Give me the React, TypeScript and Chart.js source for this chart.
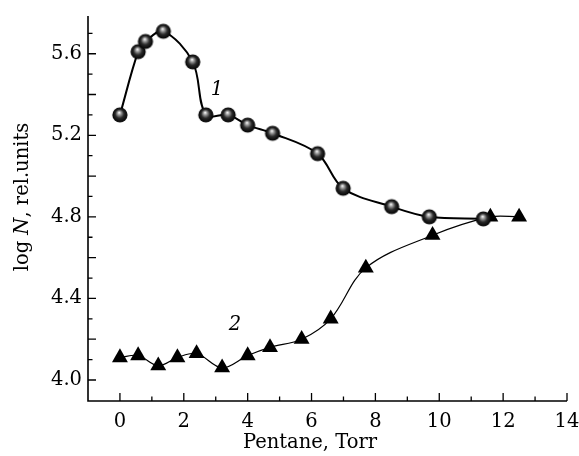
import React, { useEffect, useRef } from 'react';
import { Chart, registerables } from 'chart.js';

Chart.register(...registerables);

// Curve 1 (spheres)
const pressure1 = [0, 0.57, 0.8, 1.36, 2.28, 2.69, 3.39, 4.0, 4.78, 6.19, 6.99, 8.51, 9.69, 11.38];
const logN1 = [5.3, 5.61, 5.66, 5.71, 5.56, 5.3, 5.3, 5.25, 5.21, 5.11, 4.94, 4.85, 4.8, 4.79];
// Curve 2 (triangles)
const pressure2 = [0, 0.57, 1.2, 1.8, 2.4, 3.2, 4.0, 4.7, 5.69, 6.6, 7.7, 9.79, 11.6, 12.5];
const logN2 = [4.11, 4.12, 4.07, 4.11, 4.13, 4.06, 4.12, 4.16, 4.2, 4.3, 4.55, 4.71, 4.8, 4.8];

const xTickLabels = [0, 2, 4, 6, 8, 10, 12, 14];
const yTickLabels = [4.0, 4.4, 4.8, 5.2, 5.6];
const curveLabels = ['1', '2'];
const curveLabelX = [3.04, 3.6];
const curveLabelY = [5.42, 4.27];
const xTitle = 'Pentane, Torr';
const yTitleParts = ['log ', 'N', ', rel.units'];

const FAMILY = '"DejaVu Serif", serif';
const FSIZE = 19.5;

function makeSphere(r: number) {
  const size = Math.ceil(2 * r + 2);
  const c = document.createElement('canvas');
  c.width = size;
  c.height = size;
  const ctx = c.getContext('2d')!;
  const cx = size / 2;
  const cy = size / 2;
  const g = ctx.createRadialGradient(cx - 0.8, cy - 2.4, 0.3, cx, cy, r);
  g.addColorStop(0, '#f4f4f4');
  g.addColorStop(0.22, '#9a9a9a');
  g.addColorStop(0.55, '#2a2a2a');
  g.addColorStop(1, '#000000');
  ctx.fillStyle = g;
  ctx.beginPath();
  ctx.arc(cx, cy, r, 0, Math.PI * 2);
  ctx.fill();
  return c;
}

const axesPlugin = {
  id: 'axesPlugin',
  beforeDatasetsDraw(chart: any) {
    const { ctx, chartArea, scales } = chart;
    const { left, right, top, bottom } = chartArea;
    const x = scales.x;
    const y = scales.y;
    ctx.save();
    ctx.strokeStyle = '#000';
    ctx.lineWidth = 1.6;
    ctx.beginPath();
    ctx.moveTo(left, top);
    ctx.lineTo(left, bottom);
    ctx.lineTo(right, bottom);
    ctx.stroke();
    ctx.lineWidth = 1.3;
    ctx.beginPath();
    for (let v = 0; v <= 14; v++) {
      const px = x.getPixelForValue(v);
      const len = v % 2 === 0 ? 8 : 4.5;
      ctx.moveTo(px, bottom);
      ctx.lineTo(px, bottom - len);
    }
    for (let i = 40; i <= 57; i++) {
      const py = y.getPixelForValue(i / 10);
      const len = i % 2 === 0 ? 8 : 4.5;
      ctx.moveTo(left, py);
      ctx.lineTo(left + len, py);
    }
    ctx.stroke();
    ctx.restore();
  },
  afterDraw(chart: any) {
    const { ctx, scales } = chart;
    const x = scales.x;
    const y = scales.y;
    ctx.save();
    ctx.fillStyle = '#000';
    ctx.textBaseline = 'alphabetic';
    // x title
    ctx.font = `${FSIZE}px ${FAMILY}`;
    ctx.textAlign = 'center';
    ctx.fillText(xTitle, 310, 448);
    // y title with italic N
    const fonts = [`${FSIZE}px ${FAMILY}`, `italic ${FSIZE}px ${FAMILY}`, `${FSIZE}px ${FAMILY}`];
    const widths = yTitleParts.map((t, i) => {
      ctx.font = fonts[i];
      return ctx.measureText(t).width;
    });
    const total = widths.reduce((a, b) => a + b, 0);
    ctx.translate(28, 197);
    ctx.rotate(-Math.PI / 2);
    ctx.textAlign = 'left';
    let cur = -total / 2;
    yTitleParts.forEach((t, i) => {
      ctx.font = fonts[i];
      ctx.fillText(t, cur, 0);
      cur += widths[i];
    });
    ctx.setTransform(1, 0, 0, 1, 0, 0);
    // curve labels
    ctx.font = `italic ${FSIZE}px ${FAMILY}`;
    ctx.textAlign = 'center';
    ctx.textBaseline = 'middle';
    curveLabels.forEach((t, i) => {
      ctx.fillText(t, x.getPixelForValue(curveLabelX[i]), y.getPixelForValue(curveLabelY[i]));
    });
    ctx.restore();
  },
};

export default function App() {
  const ref = useRef<HTMLCanvasElement | null>(null);
  useEffect(() => {
    if (!ref.current) return;
    const sphere = makeSphere(7.6);
    const chart = new Chart(ref.current, {
      type: 'line',
      data: {
        datasets: [
          {
            data: pressure1.map((p, i) => ({ x: p, y: logN1[i] })),
            borderColor: '#000',
            borderWidth: 2,
            tension: 0.35,
            pointStyle: sphere as any,
            pointRadius: 7.6,
            order: 0,
          },
          {
            data: pressure2.map((p, i) => ({ x: p, y: logN2[i] })),
            borderColor: '#000',
            borderWidth: 1.2,
            tension: 0.35,
            pointStyle: 'triangle',
            pointRadius: 9.2,
            pointBackgroundColor: '#000',
            pointBorderColor: '#000',
            pointBorderWidth: 0,
            order: 1,
          },
        ],
      },
      options: {
        animation: false,
        responsive: false,
        maintainAspectRatio: false,
        layout: { padding: { top: 16, right: 12, left: 0, bottom: 0 } },
        plugins: { legend: { display: false }, tooltip: { enabled: false } },
        scales: {
          x: {
            type: 'linear',
            min: -1,
            max: 14,
            border: { display: false },
            grid: { display: false, drawTicks: false },
            ticks: {
              stepSize: 1,
              autoSkip: false,
              maxRotation: 0,
              padding: 9,
              color: '#000',
              font: { family: FAMILY, size: FSIZE },
              callback: (v: any) => (xTickLabels.includes(Number(v)) ? String(v) : ''),
            },
            afterFit: (s: any) => {
              s.height = 55;
              s.paddingLeft = 0;
              s.paddingRight = 0;
            },
          },
          y: {
            type: 'linear',
            min: 3.897,
            max: 5.785,
            border: { display: false },
            grid: { display: false, drawTicks: false },
            ticks: {
              stepSize: 0.1,
              autoSkip: false,
              padding: 6,
              color: '#000',
              font: { family: FAMILY, size: FSIZE },
              callback: (v: any) => {
                const k = Math.round(Number(v) * 10);
                return yTickLabels.some((t) => Math.round(t * 10) === k) ? (k / 10).toFixed(1) : '';
              },
            },
            afterFit: (s: any) => {
              s.width = 88;
              s.paddingTop = 0;
              s.paddingBottom = 0;
            },
          },
        },
      },
      plugins: [axesPlugin],
    } as any);
    return () => chart.destroy();
  }, []);
  return (
    <div style={{ position: 'absolute', left: 0, top: 0, width: 579, height: 456 }}>
      <canvas ref={ref} width={579} height={456} style={{ width: 579, height: 456 }} />
    </div>
  );
}
